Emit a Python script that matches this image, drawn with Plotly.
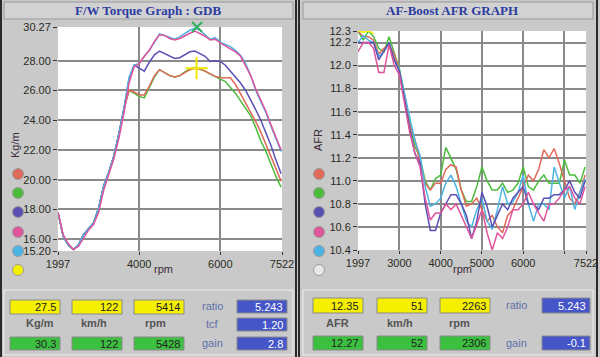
import plotly.graph_objects as go

W, H = 600, 357

# ---------------- data ----------------
rpm = [1997, 2125, 2250, 2375, 2500, 2625, 2750, 2875, 3000, 3125, 3250, 3375, 3500, 3625,
       3750, 3875, 4000, 4125, 4250, 4375, 4500, 4625, 4750, 4875, 5000, 5125, 5250, 5375,
       5500, 5625, 5750, 5875, 6000, 6125, 6250, 6375, 6500, 6625, 6750, 6875, 7000, 7125,
       7250, 7375, 7500]

low = [17.8, 16.2, 15.6, 15.3, 15.6, 16.3, 16.7, 17.1, 18.1, 19.6, 20.5, 21.6, 23.1, 24.8]

tq_red = low + [26.0, 25.9, 25.7, 25.7, 26.3, 27.0, 27.4, 27.2, 27.0, 26.9, 27.0, 27.2, 27.4, 27.5,
                27.45, 27.3, 27.1, 26.95, 26.85, 26.85, 26.85, 26.4, 25.8, 25.1, 24.5, 23.9, 23.2,
                22.4, 21.5, 20.7, 19.9]
tq_green = low + [26.0, 25.8, 25.6, 25.5, 26.2, 26.9, 27.4, 27.2, 27.0, 26.9, 27.0, 27.25, 27.45,
                  27.55, 27.45, 27.3, 27.1, 26.95, 26.8, 26.6, 26.2, 25.8, 25.3, 24.8, 24.3, 23.5,
                  22.6, 21.9, 21.0, 20.2, 19.5]
tq_blue = low + [26.8, 27.7, 27.5, 27.3, 27.9, 28.4, 28.65, 28.5, 28.3, 28.15, 28.2, 28.4, 28.6,
                 28.65, 28.5, 28.3, 27.95, 28.0, 27.95, 27.7, 27.3, 26.9, 26.5, 26.0, 25.4, 24.7,
                 24.0, 23.2, 22.3, 21.3, 20.4]
tq_pink = [17.8, 16.3, 15.7, 15.3, 15.5, 16.1, 16.6, 17.0, 17.8, 19.3, 20.3, 21.4, 22.8, 24.5,
           26.5, 27.6, 27.8, 28.3, 28.7, 29.3, 29.75, 29.7, 29.5, 29.4, 29.5, 29.7, 29.85, 30.0,
           29.85, 29.65, 29.4, 29.45, 29.2, 29.0, 28.85, 28.6, 28.3, 27.7, 27.0, 26.1, 25.4,
           24.6, 23.7, 22.8, 22.0]
tq_cyan = low + [26.9, 27.7, 27.8, 28.3, 28.7, 29.3, 29.8, 29.7, 29.55, 29.45, 29.6, 29.85, 30.05,
                 30.2, 30.05, 29.75, 29.45, 29.55, 29.25, 29.1, 28.95, 28.7, 28.35, 27.8, 27.0,
                 26.0, 25.3, 24.5, 23.6, 22.7, 21.9]

afr_red = [12.30, 12.25, 12.25, 12.22, 12.10, 12.15, 12.18, 12.10, 11.95, 11.72, 11.48, 11.36,
           11.18, 10.98, 10.92, 10.98, 10.98, 11.10, 11.14, 11.12, 10.92, 10.78, 10.80, 10.85,
           10.75, 10.65, 10.70, 10.60, 10.55, 10.70, 10.75, 10.85, 10.95, 11.05, 11.00, 11.10,
           11.27, 11.20, 11.28, 11.15, 11.00, 10.85, 10.80, 10.90, 11.05]
afr_green = [12.30, 12.22, 12.30, 12.25, 12.15, 12.12, 12.25, 12.10, 11.97, 11.75, 11.50, 11.30,
             11.20, 11.00, 10.92, 11.02, 11.05, 11.29, 11.20, 11.10, 10.92, 10.82, 10.82, 10.95,
             11.12, 11.00, 10.92, 10.92, 10.98, 10.90, 10.92, 10.98, 11.12, 10.95, 10.92, 11.00,
             11.05, 10.98, 10.98, 10.98, 11.18, 11.05, 11.05, 10.98, 11.12]
afr_blue = [12.20, 12.20, 12.20, 12.20, 12.05, 12.12, 12.20, 12.05, 11.95, 11.70, 11.45, 11.24,
            11.15, 10.80, 10.57, 10.57, 10.72, 10.80, 10.88, 10.88, 10.80, 10.70, 10.50, 10.65,
            10.90, 10.78, 10.60, 10.70, 10.80, 10.75, 10.85, 10.90, 10.95, 10.80, 10.80, 10.75,
            10.85, 10.85, 10.88, 10.88, 10.92, 11.00, 10.90, 10.85, 11.00]
afr_pink = [12.12, 12.20, 12.20, 12.15, 11.94, 11.94, 12.18, 12.00, 11.92, 11.68, 11.42, 11.24,
            11.12, 10.85, 10.66, 10.72, 10.72, 10.80, 10.75, 10.80, 10.70, 10.60, 10.50, 10.62,
            10.75, 10.55, 10.40, 10.55, 10.50, 10.60, 10.75, 10.75, 10.80, 10.90, 10.80, 10.72,
            10.65, 10.80, 10.80, 10.85, 10.92, 10.95, 10.85, 10.80, 10.95]
afr_cyan = [12.20, 12.26, 12.22, 12.20, 12.08, 12.12, 12.20, 12.05, 11.96, 11.74, 11.55, 11.35,
            11.22, 10.95, 10.78, 10.80, 10.85, 10.98, 11.05, 10.95, 10.80, 10.65, 10.60, 10.75,
            10.85, 10.65, 10.58, 10.75, 10.95, 10.80, 10.82, 10.90, 11.05, 10.80, 10.65, 10.80,
            10.80, 10.75, 11.12, 10.98, 10.85, 10.95, 10.75, 10.90, 11.02]
afr_yellow_rpm = [1997, 2125, 2250, 2375]
afr_yellow = [12.30, 12.29, 12.30, 12.28]

tq_ticks = [15.2, 16, 18, 20, 22, 24, 26, 28, 30.27]
tq_ticktext = ["15.20", "16.00", "18.00", "20.00", "22.00", "24.00", "26.00", "28.00", "30.27"]
afr_ticks = [10.4, 10.6, 10.8, 11.0, 11.2, 11.4, 11.6, 11.8, 12.0, 12.2, 12.3]
afr_ticktext = ["10.4", "10.6", "10.8", "11.0", "11.2", "11.4", "11.6", "11.8", "12.0", "12.2", "12.3"]
tq_xticks = [1997, 4000, 6000, 7522]
afr_xticks = [1997, 3000, 4000, 5000, 6000, 7000, 7522]
afr_xticktext = ["1997", "3000", "4000", "5000", "6000", "", "7522"]

cursor_rpm = [5414, 5428]
cursor_tq = [27.5, 30.27]

COL = {"red": "#e06a5a", "green": "#4cbc3c", "blue": "#5a50b4", "pink": "#e0549c",
       "cyan": "#4cb4e4", "yellow": "#f4f000"}


def px(x):
    return x / W


def py(y):
    return 1 - y / H


fig = go.Figure()

for name, ys in [("green", tq_green), ("red", tq_red), ("blue", tq_blue), ("cyan", tq_cyan), ("pink", tq_pink)]:
    fig.add_trace(go.Scatter(x=rpm, y=ys, mode="lines", line=dict(color=COL[name], width=1.5),
                             xaxis="x", yaxis="y", showlegend=False))
fig.add_trace(go.Scatter(x=[cursor_rpm[1]], y=[cursor_tq[1]], mode="markers",
                         marker=dict(symbol="x-thin", size=10, line=dict(color="#30b060", width=2)),
                         xaxis="x", yaxis="y", showlegend=False, cliponaxis=False))
fig.add_trace(go.Scatter(x=[cursor_rpm[0]], y=[cursor_tq[0]], mode="markers",
                         marker=dict(symbol="cross-thin", size=16, line=dict(color="#f0e800", width=2)),
                         xaxis="x", yaxis="y", showlegend=False))

for name, ys in [("green", afr_green), ("red", afr_red), ("cyan", afr_cyan), ("blue", afr_blue), ("pink", afr_pink)]:
    fig.add_trace(go.Scatter(x=rpm, y=ys, mode="lines", line=dict(color=COL[name], width=1.5),
                             xaxis="x2", yaxis="y2", showlegend=False))
fig.add_trace(go.Scatter(x=afr_yellow_rpm, y=afr_yellow, mode="lines", line=dict(color=COL["yellow"], width=1.5),
                         xaxis="x2", yaxis="y2", showlegend=False))

tickfont = dict(family="Liberation Sans, Arial", size=11, color="#2a2a22")
grid = "#8a8a8a"
common = dict(showgrid=True, gridcolor=grid, gridwidth=1.5, zeroline=False, ticks="outside",
              tickcolor="#333", tickfont=tickfont, fixedrange=True, automargin=False, showline=False)

fig.update_layout(
    template="none",
    width=W, height=H, margin=dict(l=0, r=0, t=0, b=0, pad=0), autosize=False,
    paper_bgcolor="#c9c9c9", plot_bgcolor="#ffffff", hovermode=False,
    xaxis=dict(domain=[px(58), px(282)], range=[1997, 7522], tickvals=tq_xticks,
               ticktext=[str(v) for v in tq_xticks], ticklen=3, anchor="y", **common),
    yaxis=dict(domain=[py(251), py(27)], range=[15.2, 30.27], tickvals=tq_ticks, ticktext=tq_ticktext,
               ticklen=4, anchor="x", **common),
    xaxis2=dict(domain=[px(358), px(586)], range=[1997, 7522], tickvals=afr_xticks,
                ticktext=afr_xticktext, ticklen=3, anchor="y2", **common),
    yaxis2=dict(domain=[py(250), py(31)], range=[10.4, 12.3], tickvals=afr_ticks, ticktext=afr_ticktext,
                ticklen=4, anchor="x2", **common),
)

shapes = []
annos = []


def text(x, y, t, size=11, color="#333", family="Liberation Sans, Arial", angle=0, xanchor="center"):
    annos.append(dict(xref="paper", yref="paper", x=px(x), y=py(y), text=t, showarrow=False,
                      textangle=angle, xanchor=xanchor, yanchor="middle",
                      font=dict(family=family, size=size, color=color)))


# title bars
for x0, x1 in [(4, 293), (303, 593)]:
    shapes.append(dict(type="rect", xref="paper", yref="paper", x0=px(x0), x1=px(x1), y0=py(19), y1=py(2),
                       fillcolor="#d2d2d2", line=dict(color="#9a9a9a", width=1), layer="below"))
text(148, 10, "<b>F/W Torque Graph : GDB</b>", 13, "#2c3ca0", "Liberation Serif, Times New Roman")
text(452, 10, "<b>AF-Boost AFR GRAPH</b>", 13, "#2c3ca0", "Liberation Serif, Times New Roman")

# frame lines
for x in [1, 296, 299, 597]:
    shapes.append(dict(type="line", xref="paper", yref="paper", x0=px(x), x1=px(x), y0=0, y1=1,
                       line=dict(color="#2a2a2a", width=2)))

# axis titles
text(15, 145, "Kg/m", 11, "#3a2a3a", angle=-90)
text(318, 140, "AFR", 11, "#3a2a3a", angle=-90)
text(163, 269, "rpm", 11, "#3a2a3a")
text(463, 269, "rpm", 11, "#3a2a3a")

# legend dots
dot_y = [174, 193, 212, 232, 251, 270]
left_cols = [COL["red"], COL["green"], COL["blue"], COL["pink"], COL["cyan"], COL["yellow"]]
right_cols = [COL["red"], COL["green"], COL["blue"], COL["pink"], COL["cyan"], "#e8e8e8"]
for cx, cols in [(18, left_cols), (319, right_cols)]:
    for yy, c in zip(dot_y, cols):
        shapes.append(dict(type="circle", xref="paper", yref="paper", x0=px(cx - 5.5), x1=px(cx + 5.5),
                           y0=py(yy + 5.5), y1=py(yy - 5.5), fillcolor=c, line=dict(color="#9a9a9a", width=1)))

# bottom panels
for x0, x1 in [(4, 293), (303, 593)]:
    shapes.append(dict(type="rect", xref="paper", yref="paper", x0=px(x0), x1=px(x1), y0=py(355), y1=py(290),
                       fillcolor="rgba(0,0,0,0)", line=dict(color="#eeeeee", width=1)))


def box(x0, y0, x1, y1, fill, t, tcolor):
    shapes.append(dict(type="rect", xref="paper", yref="paper", x0=px(x0), x1=px(x1), y0=py(y1), y1=py(y0),
                       fillcolor=fill, line=dict(color="#8a8a8a", width=1)))
    text(x1 - 2, (y0 + y1) / 2, t, 11, tcolor, xanchor="right")


YEL, GRN, BLU = "#f4f000", "#3cc040", "#4656c8"

left_top = ["27.5", "122", "5414"]
left_bot = ["30.3", "122", "5428"]
left_lab = ["Kg/m", "km/h", "rpm"]
left_blue = ["5.243", "1.20", "2.8"]
right_top = ["12.35", "51", "2263"]
right_bot = ["12.27", "52", "2306"]
right_lab = ["AFR", "km/h", "rpm"]
right_blue = ["5.243", "-0.1"]

for i, x0 in enumerate([10, 72, 134]):
    box(x0, 300, x0 + 50, 314, YEL, left_top[i], "#222")
    box(x0, 337, x0 + 50, 350, GRN, left_bot[i], "#222")
for xc, t in zip([40, 94, 155], left_lab):
    text(xc, 323, "<b>" + t + "</b>", 11, "#555555")
for yy, t in zip([306, 324, 343], ["ratio", "tcf", "gain"]):
    text(212, yy, t, 11, "#6070a8")
for (y0, y1), t in zip([(300, 313), (318, 331), (337, 350)], left_blue):
    box(237, y0, 287, y1, BLU, t, "#ffffff")

for i, x0 in enumerate([313, 377, 440]):
    box(x0, 298, x0 + 50, 313, YEL, right_top[i], "#222")
    box(x0, 336, x0 + 50, 350, GRN, right_bot[i], "#222")
for xc, t in zip([337, 400, 459], right_lab):
    text(xc, 323, "<b>" + t + "</b>", 11, "#555555")
for yy, t in zip([305, 343], ["ratio", "gain"]):
    text(516, yy, t, 11, "#6070a8")
for (y0, y1), t in zip([(298, 313), (336, 350)], right_blue):
    box(542, y0, 590, y1, BLU, t, "#ffffff")

fig.update_layout(shapes=shapes, annotations=annos)
fig.write_html("out.html", config={"displayModeBar": False},
               post_script="document.body.style.margin='0';document.body.style.overflow='hidden';")
